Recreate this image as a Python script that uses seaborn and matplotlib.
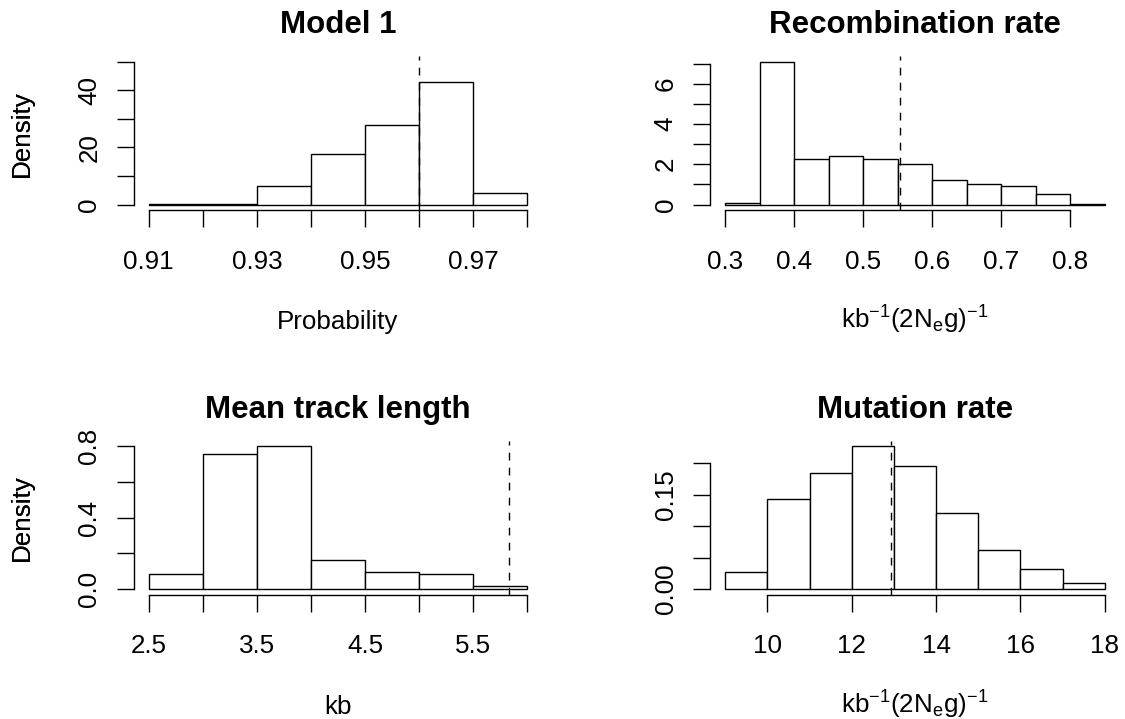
import numpy as np
import pandas as pd
import matplotlib
matplotlib.use("Agg")
import matplotlib.pyplot as plt
import seaborn as sns

# ---------------- data ----------------
titles = ["Model 1", "Recombination rate", "Mean track length", "Mutation rate"]
xlabels = ["Probability", r"kb$^{-1}$(2N$_{e}$g)$^{-1}$", "kb", r"kb$^{-1}$(2N$_{e}$g)$^{-1}$"]

# histogram bin edges and densities
p1_edges = [0.91, 0.92, 0.93, 0.94, 0.95, 0.96, 0.97, 0.98]
p1_dens = [0.3, 0.3, 6.67, 17.7, 27.8, 42.9, 4.1]
p1_line = 0.96

p2_edges = [0.30, 0.35, 0.40, 0.45, 0.50, 0.55, 0.60, 0.65, 0.70, 0.75, 0.80, 0.85]
p2_dens = [0.10, 7.09, 2.28, 2.42, 2.24, 1.99, 1.24, 1.04, 0.91, 0.53, 0.03]
p2_line = 0.5526

p3_edges = [2.5, 3.0, 3.5, 4.0, 4.5, 5.0, 5.5, 6.0]
p3_dens = [0.084, 0.754, 0.80, 0.164, 0.098, 0.084, 0.02]
p3_line = 5.83

p4_edges = [9, 10, 11, 12, 13, 14, 15, 16, 17, 18]
p4_dens = [0.0265, 0.1429, 0.1847, 0.2275, 0.1958, 0.1212, 0.063, 0.0317, 0.009]
p4_line = 12.93

# ticks and tick labels
p1_xticks = [0.91, 0.92, 0.93, 0.94, 0.95, 0.96, 0.97, 0.98]
p1_xlabels = ["0.91", "", "0.93", "", "0.95", "", "0.97", ""]
p1_yticks = [0, 10, 20, 30, 40, 50]
p1_ylabels = ["0", "", "20", "", "40", ""]
p1_ymax = 50

p2_xticks = [0.3, 0.4, 0.5, 0.6, 0.7, 0.8]
p2_xlabels = ["0.3", "0.4", "0.5", "0.6", "0.7", "0.8"]
p2_yticks = [0, 1, 2, 3, 4, 5, 6, 7]
p2_ylabels = ["0", "", "2", "", "4", "", "6", ""]
p2_ymax = 7.09

p3_xticks = [2.5, 3.0, 3.5, 4.0, 4.5, 5.0, 5.5, 6.0]
p3_xlabels = ["2.5", "", "3.5", "", "4.5", "", "5.5", ""]
p3_yticks = [0.0, 0.2, 0.4, 0.6, 0.8]
p3_ylabels = ["0.0", "", "0.4", "", "0.8"]
p3_ymax = 0.80

p4_xticks = [10, 12, 14, 16, 18]
p4_xlabels = ["10", "12", "14", "16", "18"]
p4_yticks = [0.00, 0.05, 0.10, 0.15, 0.20]
p4_ylabels = ["0.00", "", "", "0.15", ""]
p4_ymax = 0.2275

# ---------------- style ----------------
sns.set_style("ticks")
plt.rcParams["font.family"] = ["Liberation Sans", "DejaVu Sans"]
plt.rcParams["mathtext.fontset"] = "custom"
plt.rcParams["mathtext.rm"] = "Liberation Sans"
plt.rcParams["mathtext.it"] = "Liberation Sans:italic"
plt.rcParams["mathtext.bf"] = "Liberation Sans:bold"
plt.rcParams["mathtext.default"] = "regular"
for k in ["text.color", "axes.labelcolor", "xtick.color", "ytick.color",
          "axes.edgecolor", "xtick.labelcolor", "ytick.labelcolor"]:
    plt.rcParams[k] = "black"

W, H = 1125, 719
fig = plt.figure(figsize=(W / 100, H / 100), dpi=100)

LW = 1.0
FS = 18.7
TFS = 22.5

# axes boxes in pixels: left, right, top, bottom
boxes = [
    (133.5, 542.5, 56.0, 210.3),
    (710.0, 1120.0, 56.0, 210.3),
    (133.5, 542.5, 440.5, 594.8),
    (710.0, 1120.0, 440.5, 594.8),
]

panels = [
    (p1_edges, p1_dens, p1_line, p1_xticks, p1_xlabels, p1_yticks, p1_ylabels, p1_ymax),
    (p2_edges, p2_dens, p2_line, p2_xticks, p2_xlabels, p2_yticks, p2_ylabels, p2_ymax),
    (p3_edges, p3_dens, p3_line, p3_xticks, p3_xlabels, p3_yticks, p3_ylabels, p3_ymax),
    (p4_edges, p4_dens, p4_line, p4_xticks, p4_xlabels, p4_yticks, p4_ylabels, p4_ymax),
]

for i, (edges, dens, vline, xt, xtl, yt, ytl, ymax) in enumerate(panels):
    l, r, t, b = boxes[i]
    ax = fig.add_axes([l / W, (H - b) / H, (r - l) / W, (b - t) / H])
    e = np.asarray(edges, dtype=float)
    df = pd.DataFrame({"x": (e[:-1] + e[1:]) / 2, "w": list(dens)})
    sns.histplot(data=df, x="x", weights="w", bins=list(e), stat="count",
                 color="white", edgecolor="black", linewidth=LW, alpha=1,
                 ax=ax)
    xr = e[-1] - e[0]
    ax.set_xlim(e[0] - 0.04 * xr, e[-1] + 0.04 * xr)
    ax.set_ylim(-0.04 * ymax, 1.04 * ymax)
    ax.axvline(vline, color="black", lw=LW, linestyle=(0, (5.6, 5.2)))

    for s in ["top", "right"]:
        ax.spines[s].set_visible(False)
    for s in ["left", "bottom"]:
        ax.spines[s].set_linewidth(LW)
        ax.spines[s].set_color("black")
    ax.spines["bottom"].set_bounds(xt[0], xt[-1])
    ax.spines["left"].set_bounds(yt[0], yt[-1])

    ax.set_xticks(xt)
    ax.set_xticklabels(xtl)
    ax.set_yticks(yt)
    ax.set_yticklabels(ytl, rotation=90, va="center")
    ax.tick_params(axis="both", which="major", direction="out", length=12,
                   width=LW, color="black", labelsize=FS, labelcolor="black",
                   bottom=True, left=True, top=False, right=False)
    ax.tick_params(axis="x", pad=16.5)
    ax.tick_params(axis="y", pad=11.2)

    ax.set_title(titles[i], fontsize=TFS, fontweight="bold", pad=16.3,
                 color="black")
    ax.set_xlabel(xlabels[i], fontsize=FS, va="baseline", color="black")
    ax.xaxis.set_label_coords(0.5, -(329 - 210.3) / (b - t))
    ax.set_ylabel("Density", fontsize=FS, color="black")
    ax.yaxis.set_label_coords(-(l - 34.0) / (r - l), 0.5)
    ax.grid(False)

fig.savefig("out.png", dpi=100)
